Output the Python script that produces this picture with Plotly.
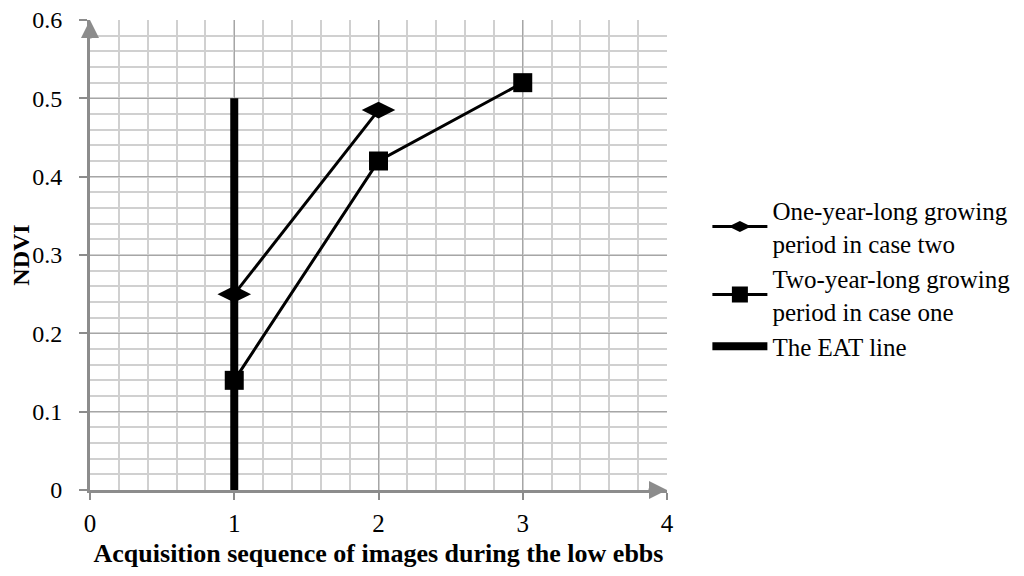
import plotly.graph_objects as go

# data
seq_one_year = [1, 2]
ndvi_one_year = [0.25, 0.485]

seq_two_year = [1, 2, 3]
ndvi_two_year = [0.14, 0.42, 0.52]

eat_x = [1, 1]
eat_y = [0, 0.5]

x_ticks = [0, 1, 2, 3, 4]
y_ticks = [0, 0.1, 0.2, 0.3, 0.4, 0.5, 0.6]

FONT = "Liberation Serif, Times New Roman, serif"
AXIS_GRAY = "#8c8c8c"

fig = go.Figure()

fig.add_trace(go.Scatter(
    x=eat_x, y=eat_y,
    mode="lines",
    name="The EAT line",
    line=dict(color="black", width=8),
    legendrank=3,
))

fig.add_trace(go.Scatter(
    x=seq_one_year, y=ndvi_one_year,
    mode="lines+markers",
    name="One-year-long growing<br>period in case two",
    line=dict(color="black", width=3),
    marker=dict(symbol="diamond-wide", size=24, color="black"),
    legendrank=1,
))

fig.add_trace(go.Scatter(
    x=seq_two_year, y=ndvi_two_year,
    mode="lines+markers",
    name="Two-year-long growing<br>period in case one",
    line=dict(color="black", width=3),
    marker=dict(symbol="square", size=19, color="black"),
    legendrank=2,
))

fig.update_xaxes(
    range=[0, 4],
    tickvals=x_ticks,
    ticks="outside", ticklen=7, tickwidth=2, tickcolor=AXIS_GRAY,
    ticklabelstandoff=2, ticklabeloverflow="allow",
    showline=True, linecolor=AXIS_GRAY, linewidth=3,
    showgrid=True, gridcolor="#a6a6a6", gridwidth=1,
    minor=dict(dtick=0.2, showgrid=True, gridcolor="#d0d0d0", gridwidth=1.5),
    zeroline=False, automargin=False,
    tickfont=dict(family=FONT, size=25, color="black"),
    title=dict(text="<b>Acquisition sequence of images during the low ebbs</b>",
               font=dict(family=FONT, size=26, color="black"), standoff=8),
)

fig.update_yaxes(
    range=[0, 0.6],
    tickvals=y_ticks,
    tickformat="~g",
    ticks="outside", ticklen=8, tickwidth=2, tickcolor=AXIS_GRAY,
    ticklabelstandoff=12, ticklabeloverflow="allow",
    showline=True, linecolor=AXIS_GRAY, linewidth=3,
    showgrid=True, gridcolor="#a6a6a6", gridwidth=1,
    minor=dict(dtick=0.02, showgrid=True, gridcolor="#d0d0d0", gridwidth=1.5),
    zeroline=False, automargin=False,
    tickfont=dict(family=FONT, size=24, color="black"),
    title=dict(text="<b>NDVI</b>", font=dict(family=FONT, size=24, color="black"),
               standoff=24),
)

# arrowheads at the ends of both axes
fig.add_annotation(x=1, y=0, xref="x domain", yref="y domain",
                   ax=-20, ay=0, axref="pixel", ayref="pixel",
                   text="", showarrow=True, arrowhead=2, arrowsize=1.2,
                   arrowwidth=3, arrowcolor=AXIS_GRAY)
fig.add_annotation(x=0, y=1, xref="x domain", yref="y domain",
                   ax=0, ay=20, axref="pixel", ayref="pixel",
                   text="", showarrow=True, arrowhead=2, arrowsize=1.2,
                   arrowwidth=3, arrowcolor=AXIS_GRAY)

fig.update_layout(
    width=1024, height=576,
    margin=dict(l=82, r=365, t=12, b=94, autoexpand=False),
    plot_bgcolor="white", paper_bgcolor="white",
    font=dict(family=FONT, color="black"),
    legend=dict(
        x=1.07, y=0.45, xanchor="left", yanchor="middle",
        font=dict(family=FONT, size=25, color="black"),
        tracegroupgap=6, itemwidth=55,
    ),
)

fig.write_html("out.html")
